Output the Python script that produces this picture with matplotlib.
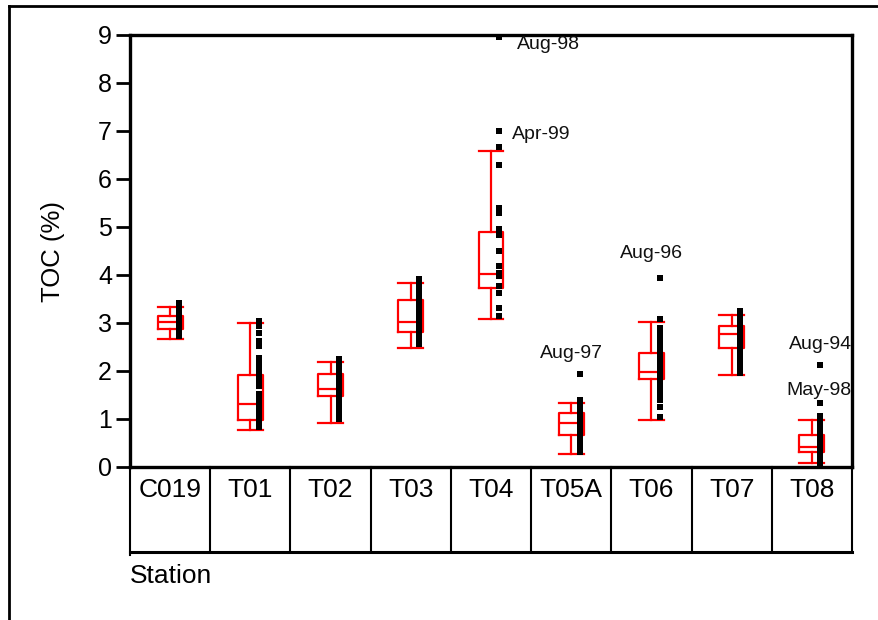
import matplotlib
matplotlib.use("Agg")
import matplotlib.pyplot as plt
from matplotlib.lines import Line2D

plt.rcParams['font.family'] = ['Liberation Sans', 'DejaVu Sans']

# Stations along the x axis
stations = ["C019", "T01", "T02", "T03", "T04", "T05A", "T06", "T07", "T08"]

# Box statistics per station (TOC %)
whisker_low = [2.67, 0.77, 0.92, 2.48, 3.08, 0.27, 0.98, 1.92, 0.08]
q1 = [2.87, 0.98, 1.47, 2.82, 3.73, 0.67, 1.83, 2.48, 0.32]
median = [3.03, 1.32, 1.63, 3.02, 4.03, 0.92, 1.97, 2.78, 0.41]
q3 = [3.14, 1.92, 1.93, 3.47, 4.89, 1.13, 2.37, 2.93, 0.67]
whisker_high = [3.33, 2.99, 2.18, 3.83, 6.58, 1.33, 3.03, 3.17, 0.98]

# Individual samples per station (TOC %)
toc_c019 = [3.42, 3.36, 3.30, 3.24, 3.18, 3.12, 3.06, 3.00, 2.95, 2.90, 2.84, 2.78, 2.72]
toc_t01 = [3.05, 2.93, 2.80, 2.62, 2.52, 2.28, 2.18, 2.08, 1.98, 1.88, 1.78, 1.68,
           1.52, 1.42, 1.32, 1.22, 1.12, 1.02, 0.92, 0.84]
toc_t02 = [2.26, 2.17, 2.08, 1.98, 1.88, 1.78, 1.68, 1.58, 1.48, 1.36, 1.22, 1.10, 1.00]
toc_t03 = [3.92, 3.84, 3.76, 3.66, 3.56, 3.46, 3.36, 3.26, 3.16, 3.06, 2.96, 2.86,
           2.76, 2.66, 2.56]
toc_t04 = [8.95, 7.01, 6.67, 6.29, 5.40, 5.30, 4.95, 4.84, 4.50, 4.19, 4.05, 3.98,
           3.77, 3.63, 3.31, 3.14]
toc_t05a = [1.94, 1.40, 1.30, 1.20, 1.10, 1.00, 0.90, 0.80, 0.70, 0.60, 0.50, 0.40, 0.32]
toc_t06 = [3.94, 3.09, 2.90, 2.80, 2.70, 2.60, 2.50, 2.40, 2.30, 2.20, 2.10, 2.00,
           1.90, 1.80, 1.70, 1.60, 1.50, 1.40, 1.26, 1.05]
toc_t07 = [3.26, 3.17, 3.08, 2.99, 2.90, 2.81, 2.72, 2.63, 2.54, 2.45, 2.36, 2.27,
           2.18, 2.09, 1.96]
toc_t08 = [2.13, 1.33, 1.06, 0.96, 0.86, 0.76, 0.66, 0.56, 0.46, 0.36, 0.26, 0.16, 0.06]
samples = [toc_c019, toc_t01, toc_t02, toc_t03, toc_t04, toc_t05a, toc_t06, toc_t07, toc_t08]

# Labelled outliers: sampling date, station index, value
outlier_labels = ["Aug-98", "Apr-99", "Aug-97", "Aug-96", "Aug-94", "May-98"]
outlier_station = [4, 4, 5, 6, 8, 8]
outlier_value = [8.95, 7.01, 1.94, 3.94, 2.13, 1.33]

y_ticks = [0, 1, 2, 3, 4, 5, 6, 7, 8, 9]

# ---- layout ----
W, H = 879, 620
fig = plt.figure(figsize=(W / 100, H / 100), dpi=100)
ax = fig.add_axes([130 / W, 1 - 467 / H, (852 - 130) / W, (467 - 35) / H])

positions = list(range(len(stations)))
stats = []
for i in positions:
    stats.append(dict(whislo=whisker_low[i], q1=q1[i], med=median[i],
                      q3=q3[i], whishi=whisker_high[i], fliers=[]))

red = "#ff0000"
lw_box = 1.6
ax.bxp(stats, positions=positions, widths=0.31, capwidths=0.31, showfliers=False,
       boxprops=dict(color=red, linewidth=lw_box),
       whiskerprops=dict(color=red, linewidth=lw_box),
       capprops=dict(color=red, linewidth=lw_box),
       medianprops=dict(color=red, linewidth=lw_box),
       manage_ticks=False, zorder=2)

# sample points drawn just right of each box
for i, vals in enumerate(samples):
    ax.plot([i + 0.105] * len(vals), vals, linestyle="none", marker="s",
            markersize=5.0, color="black", markeredgewidth=0, zorder=3)

# outlier date labels: (dx, dy) offsets in pixels, alignment
label_layout = [(17.5, -7.5, "left"), (12.5, -4, "left"), (-8, 20, "center"),
                (-8.5, 24, "center"), (0, 20, "center"), (-1.5, 12.5, "center")]
for lab, st, val, (dx, dy, ha) in zip(outlier_labels, outlier_station, outlier_value,
                                      label_layout):
    ax.annotate(lab, xy=(st + 0.105, val), xytext=(dx * 0.72, dy * 0.72),
                textcoords="offset points", ha=ha, va="center", fontsize=14,
                color="#111111", annotation_clip=False)

ax.set_xlim(-0.5, len(stations) - 0.5)
ax.set_ylim(0, 9)
ax.set_yticks(y_ticks)
ax.set_yticklabels([str(t) for t in y_ticks], fontsize=18)
ax.tick_params(axis="y", length=10, width=2, pad=3, direction="out")
ax.set_xticks([])
for s in ax.spines.values():
    s.set_linewidth(2.4)
ax.set_ylabel("TOC (%)", fontsize=18.5, labelpad=24)

# station table underneath the axis
tbl_h = 85 / 432
trans = ax.get_xaxis_transform()
for k in range(len(stations) + 1):
    ax.add_line(Line2D([k - 0.5, k - 0.5], [0, -tbl_h - (0.008 if k == 0 else 0)],
                       transform=trans, color="black", linewidth=1.5, clip_on=False))
ax.add_line(Line2D([-0.5, len(stations) - 0.5], [-tbl_h, -tbl_h], transform=trans,
                   color="black", linewidth=2.2, clip_on=False))
for i, name in enumerate(stations):
    ax.text(i, -23 / 432, name, transform=trans, ha="center", va="center", fontsize=19)
ax.text(0.0, -(576 - 467) / 432, "Station", transform=ax.transAxes, ha="left",
        va="center", fontsize=19)

# outer frame
fig.add_artist(Line2D([8.5 / W, 8.5 / W], [0, 1 - 6 / H], transform=fig.transFigure,
                      color="black", linewidth=2))
fig.add_artist(Line2D([8.5 / W, 1], [1 - 6 / H, 1 - 6 / H], transform=fig.transFigure,
                      color="black", linewidth=2))

fig.savefig("out.png", dpi=100)
